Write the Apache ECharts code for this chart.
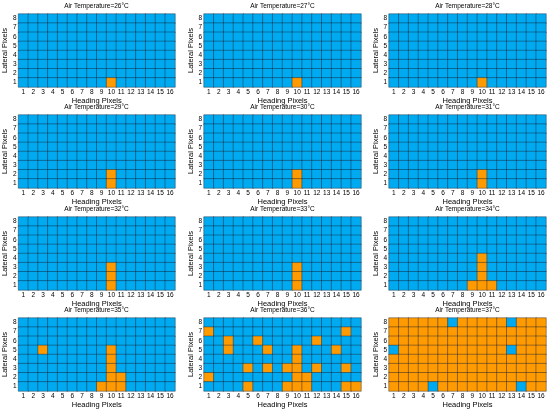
<!DOCTYPE html>
<html>
<head>
<meta charset="utf-8">
<script src="https://cdn.jsdelivr.net/npm/echarts@6/dist/echarts.min.js"></script>
<style>
html,body{margin:0;padding:0;background:#fff;}
#main{width:550px;height:412px;}
</style>
</head>
<body>
<div id="main"></div>
<script>
var headingPixels = ['1','2','3','4','5','6','7','8','9','10','11','12','13','14','15','16'];
var lateralPixels = ['1','2','3','4','5','6','7','8'];
var temperatures = [26, 27, 28, 29, 30, 31, 32, 33, 34, 35, 36, 37];

// each panel: 8 rows (lateral 8 at top -> 1 at bottom), 16 columns, 1 = hot (orange)
var panels = [
    ['0000000000000000','0000000000000000','0000000000000000','0000000000000000',
     '0000000000000000','0000000000000000','0000000000000000','0000000001000000'],
    ['0000000000000000','0000000000000000','0000000000000000','0000000000000000',
     '0000000000000000','0000000000000000','0000000000000000','0000000001000000'],
    ['0000000000000000','0000000000000000','0000000000000000','0000000000000000',
     '0000000000000000','0000000000000000','0000000000000000','0000000001000000'],
    ['0000000000000000','0000000000000000','0000000000000000','0000000000000000',
     '0000000000000000','0000000000000000','0000000001000000','0000000001000000'],
    ['0000000000000000','0000000000000000','0000000000000000','0000000000000000',
     '0000000000000000','0000000000000000','0000000001000000','0000000001000000'],
    ['0000000000000000','0000000000000000','0000000000000000','0000000000000000',
     '0000000000000000','0000000000000000','0000000001000000','0000000001000000'],
    ['0000000000000000','0000000000000000','0000000000000000','0000000000000000',
     '0000000000000000','0000000001000000','0000000001000000','0000000001000000'],
    ['0000000000000000','0000000000000000','0000000000000000','0000000000000000',
     '0000000000000000','0000000001000000','0000000001000000','0000000001000000'],
    ['0000000000000000','0000000000000000','0000000000000000','0000000000000000',
     '0000000001000000','0000000001000000','0000000001000000','0000000011100000'],
    ['0000000000000000','0000000000000000','0000000000000000','0010000001000000',
     '0000000001000000','0000000001000000','0000000001100000','0000000011100000'],
    ['0000000000000000','1000000000000010','0010010000010000','0010001001000100',
     '0000000001000000','0000101011010010','1000000001100000','0000100011100011'],
    ['1111110111110111','1111111111111111','1111111111111111','0111111111110111',
     '1111111111111111','1111111111111111','1111111111111111','1111011111111011']
];

var colLeft = [18, 204, 389];
var rowTop = [14, 115, 217, 318];
var plotW = 157, plotH = 73;
var font = 'Liberation Sans';

var grids = [], xAxes = [], yAxes = [], titles = [], series = [];
for (var i = 0; i < panels.length; i++) {
    var c = i % 3, r = Math.floor(i / 3);
    grids.push({left: colLeft[c], top: rowTop[r], width: plotW, height: plotH});
    titles.push({
        text: 'Air Temperature=' + temperatures[i] + '°C',
        left: colLeft[c] + plotW / 2,
        top: rowTop[r] - 11,
        textAlign: 'center',
        padding: 0,
        textStyle: {fontSize: 6.5, fontWeight: 'normal', color: '#000', fontFamily: font}
    });
    xAxes.push({
        type: 'category', gridIndex: i, data: headingPixels,
        name: 'Heading Pixels', nameLocation: 'middle', nameGap: 8,
        nameTextStyle: {fontSize: 7.5, color: '#000', fontFamily: font},
        axisLine: {show: false}, axisTick: {show: false},
        axisLabel: {fontSize: 6.5, color: '#000', margin: 2, interval: 0, fontFamily: font}
    });
    yAxes.push({
        type: 'category', gridIndex: i, data: lateralPixels,
        name: 'Lateral Pixels', nameLocation: 'middle', nameGap: 8,
        nameTextStyle: {fontSize: 7.5, color: '#000', fontFamily: font},
        axisLine: {show: false}, axisTick: {show: false},
        axisLabel: {fontSize: 6.5, color: '#000', margin: 2, interval: 0, fontFamily: font}
    });
    var data = [];
    var rows = panels[i];
    for (var yy = 0; yy < 8; yy++) {
        for (var xx = 0; xx < 16; xx++) {
            data.push([xx, 7 - yy, Number(rows[yy].charAt(xx))]);
        }
    }
    series.push({
        type: 'heatmap', xAxisIndex: i, yAxisIndex: i, data: data,
        itemStyle: {borderColor: 'rgba(20,30,50,0.7)', borderWidth: 0.6},
        emphasis: {disabled: true}
    });
}

var myChart = echarts.init(document.getElementById('main'));
var option = {
    animation: false,
    title: titles,
    grid: grids,
    xAxis: xAxes,
    yAxis: yAxes,
    visualMap: {
        type: 'piecewise', show: false, dimension: 2,
        pieces: [{value: 0, color: '#00aaf0'}, {value: 1, color: '#ff9a00'}]
    },
    series: series
};
myChart.setOption(option);
</script>
</body>
</html>
